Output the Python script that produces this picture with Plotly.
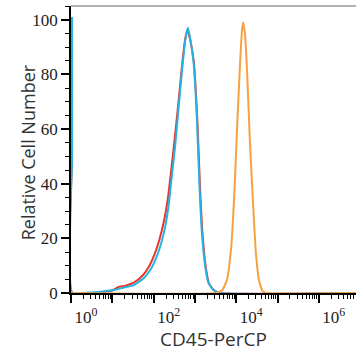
import plotly.graph_objects as go

# log10 fluorescence intensity positions and relative cell numbers
cyan_log = [0.025, 0.025, 0.03, 0.45, 0.71, 1.00, 1.20, 1.52, 1.76, 1.92, 2.04, 2.16, 2.28, 2.36, 2.44, 2.52,
            2.60, 2.69, 2.77, 2.83, 2.89, 2.97, 3.05, 3.11, 3.17, 3.25, 3.33, 3.45, 3.61, 6.90]
cyan_val = [101, 50, 0, 0.2, 0.5, 1.0, 1.7, 2.9, 5.4, 8.4, 12, 17, 24.3, 31.6, 42.6, 53.6,
            67, 81.7, 92.7, 97, 92.7, 84, 63, 39, 21.9, 9.6, 3.6, 1.1, 0, 0]

red_log = [0.025, 0.025, 0.03, 0.70, 1.00, 1.15, 1.30, 1.52, 1.74, 1.90, 2.02, 2.14, 2.26, 2.34, 2.42, 2.50,
           2.59, 2.68, 2.76, 2.82, 2.88, 2.97, 3.06, 3.12, 3.18, 3.26, 3.34, 3.46, 3.62, 6.90]
red_val = [101, 50, 0, 0.3, 0.9, 2.2, 2.6, 3.8, 6.5, 10, 14, 19.5, 27, 34, 44, 55,
           68, 82, 92.5, 96.5, 93, 85, 63, 40, 22.5, 9.8, 3.5, 1.0, 0, 0]

orange_log = [0.03, 3.49, 3.66, 3.78, 3.88, 3.95, 4.02, 4.09, 4.14, 4.17, 4.21, 4.26, 4.33, 4.41,
              4.48, 4.56, 4.65, 4.75, 6.90]
orange_val = [0, 0, 1, 5, 17, 35, 60, 83, 96, 99, 95, 82, 56, 32,
              14, 4, 0.5, 0, 0]

x_major = [1, 10, 100, 1000, 10000, 100000, 1000000]
x_major_text = ["10<sup>0</sup>", "", "10<sup>2</sup>", "", "10<sup>4</sup>", "", "10<sup>6</sup>"]
y_major = [0, 20, 40, 60, 80, 100]

x_minor = [m * d for d in [1, 10, 100, 1000, 10000, 100000, 1000000] for m in range(2, 10)]

fig = go.Figure()
fig.add_trace(go.Scatter(x=[10 ** v for v in red_log], y=red_val, mode="lines",
                         line=dict(color="#e8352d", width=2, shape="spline", smoothing=0.5),
                         showlegend=False))
fig.add_trace(go.Scatter(x=[10 ** v for v in cyan_log], y=cyan_val, mode="lines",
                         line=dict(color="#22b4e4", width=2, shape="spline", smoothing=0.5),
                         showlegend=False))
fig.add_trace(go.Scatter(x=[10 ** v for v in orange_log], y=orange_val, mode="lines",
                         line=dict(color="#f7a142", width=2, shape="spline", smoothing=0.5),
                         showlegend=False))

fig.update_layout(
    width=356, height=352,
    margin=dict(l=71, r=0, t=6, b=59, autoexpand=False),
    paper_bgcolor="white", plot_bgcolor="white",
    shapes=[dict(type="line", xref="paper", yref="paper", x0=0, x1=1, y0=1, y1=1,
                 line=dict(color="#9a9a9a", width=1.5))],
    annotations=[dict(text="Relative Cell Number", xref="paper", yref="paper",
                      x=-0.151, y=0.49, xanchor="center", yanchor="middle",
                      textangle=-90, showarrow=False,
                      font=dict(family="Open Sans", size=18, color="#333"))],
)
fig.update_xaxes(
    type="log", range=[0, 6.9], automargin=False, layer="below traces",
    showgrid=False, zeroline=False,
    showline=True, linecolor="black", linewidth=1.5,
    tickmode="array", tickvals=x_major, ticktext=x_major_text,
    ticks="outside", ticklen=8, tickwidth=1.5, tickcolor="black",
    ticklabelshift=15,
    tickfont=dict(family="Liberation Serif", size=17, color="#222"),
    minor=dict(tickmode="array", tickvals=x_minor, ticks="outside", ticklen=4,
               tickwidth=1, tickcolor="black", showgrid=False),
    title=dict(text="CD45-PerCP", font=dict(family="Open Sans", size=19, color="#333"), standoff=4),
)
fig.update_yaxes(
    range=[0, 105], automargin=False, layer="below traces",
    showgrid=False, zeroline=False,
    showline=True, linecolor="black", linewidth=1.5,
    tickmode="array", tickvals=y_major,
    ticks="outside", ticklen=8, tickwidth=1.5, tickcolor="black",
    tickfont=dict(family="Liberation Serif", size=17, color="#222"),
    minor=dict(dtick=5, ticks="outside", ticklen=4, tickwidth=1, tickcolor="black", showgrid=False),
)

fig.write_html("out.html", config={"displayModeBar": False},
               post_script="document.body.style.margin='0px';document.body.style.padding='0px';")
